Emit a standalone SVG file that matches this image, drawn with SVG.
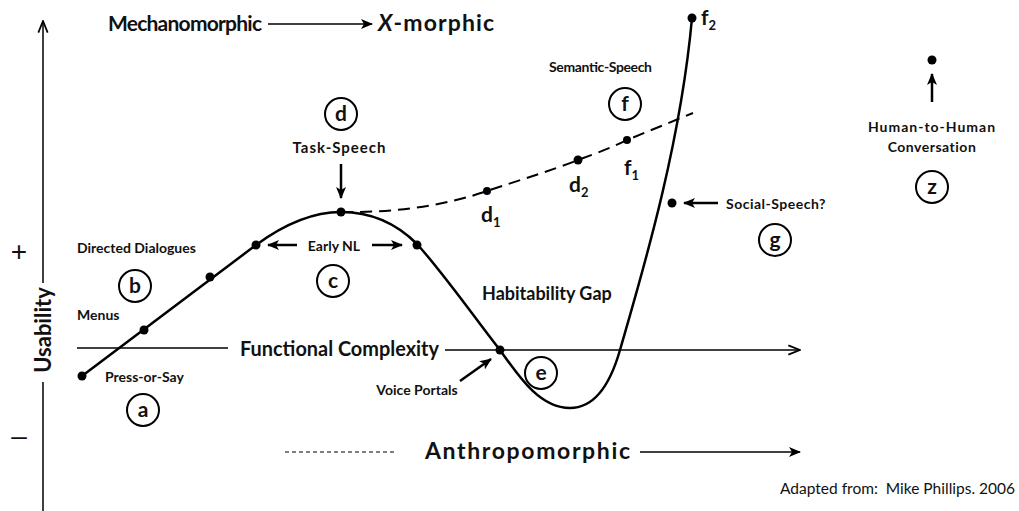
<svg xmlns="http://www.w3.org/2000/svg" width="1019" height="511" viewBox="0 0 1019 511">
<defs>
<marker id="ah" viewBox="0 0 12 10" refX="11" refY="5" markerWidth="12" markerHeight="10" markerUnits="userSpaceOnUse" orient="auto">
<path d="M0,0 L12,5 L0,10 L3,5 z" fill="#000"/>
</marker>
<marker id="oh" viewBox="0 0 12 10" refX="11" refY="5" markerWidth="14" markerHeight="12" markerUnits="userSpaceOnUse" orient="auto">
<path d="M1,1 L11,5 L1,9" fill="none" stroke="#000" stroke-width="1.5"/>
</marker>
</defs>
<style>
text{font-family:Lato,"Open Sans","Liberation Sans",sans-serif;font-weight:bold;fill:#111}
.lbl{font-size:14px}
.cl{font-size:21px;text-anchor:middle}
.circ{fill:none;stroke:#000;stroke-width:2}
.ln{stroke:#000;stroke-width:1.5;fill:none}
.arr{stroke:#000;stroke-width:2.5;fill:none;marker-end:url(#ah)}
.dot{fill:#000}
</style>
<rect width="1019" height="511" fill="#fff"/>

<g id="axes">
<line class="ln" x1="43" y1="283" x2="43" y2="21" marker-end="url(#oh)"/>
<line class="ln" x1="43" y1="382" x2="43" y2="511"/>
<text x="19" y="261" style="font-size:28px;font-weight:normal;font-family:'Liberation Sans',sans-serif" text-anchor="middle">+</text>
<text x="19" y="445" style="font-size:28px;font-weight:normal;font-family:'Liberation Sans',sans-serif" text-anchor="middle">–</text>
<text transform="translate(51,330) rotate(-90)" style="font-size:22px" text-anchor="middle">Usability</text>
<line class="ln" x1="77" y1="348" x2="228" y2="348"/>
<line class="ln" x1="445" y1="350" x2="800" y2="350" marker-end="url(#oh)"/>
<text x="240" y="356" style="font-size:20px" textLength="199" lengthAdjust="spacingAndGlyphs">Functional Complexity</text>
</g>

<g id="top-title">
<text x="108" y="31" style="font-size:21px" textLength="154" lengthAdjust="spacing">Mechanomorphic</text>
<line x1="268" y1="24" x2="372" y2="24" stroke="#000" stroke-width="1.5" marker-end="url(#ah)"/>
<text x="378" y="31" style="font-size:23px" textLength="116" lengthAdjust="spacing"><tspan font-style="italic">X</tspan>-morphic</text>
</g>

<g id="bottom-title">
<line x1="285" y1="452" x2="397" y2="452" stroke="#000" stroke-width="1" stroke-dasharray="4,3"/>
<text x="425" y="459" style="font-size:23px" textLength="205" lengthAdjust="spacing">Anthropomorphic</text>
<line x1="640" y1="452" x2="800" y2="452" stroke="#000" stroke-width="1.5" marker-end="url(#ah)"/>
<text x="1015" y="494" style="font-size:15.5px;font-weight:normal" text-anchor="end" xml:space="preserve">Adapted from:  Mike Phillips. 2006</text>
</g>

<g id="connectors">
<path d="M82,376 L256,245 C290,220 318,212 341,212 C370,212 395,222 417,244 C445,275 480,325 500,350 C520,378 540,408 570,408 C595,408 610,385 620,350 C640,280 680,150 692,18" stroke="#000" stroke-width="2.5" fill="none"/>
<path d="M341,212 C400,213 450,204 487,191 C520,180 550,171 578,160 C600,152 615,146 627,140 L693,113" stroke="#000" stroke-width="2" fill="none" stroke-dasharray="12,7"/>
<line class="arr" x1="341" y1="164" x2="341" y2="198"/>
<line class="arr" x1="297" y1="245" x2="268" y2="245"/>
<line class="arr" x1="372" y1="245" x2="402" y2="245"/>
<line class="arr" x1="460" y1="381" x2="491" y2="359"/>
<line class="arr" x1="718" y1="203" x2="684" y2="203"/>
<line class="arr" x1="932" y1="102" x2="932" y2="74"/>
</g>

<g id="a">
<circle class="dot" cx="82" cy="376" r="4.5"/>
<text class="lbl" x="105" y="382">Press-or-Say</text>
<circle class="circ" cx="143" cy="410" r="16"/>
<text class="cl" x="143" y="417">a</text>
</g>
<g id="b">
<circle class="dot" cx="144" cy="330" r="4.5"/>
<circle class="dot" cx="210" cy="277" r="4.5"/>
<text class="lbl" x="77" y="320">Menus</text>
<text class="lbl" x="77" y="253">Directed Dialogues</text>
<circle class="circ" cx="135" cy="286" r="16"/>
<text class="cl" x="135" y="293">b</text>
</g>
<g id="c">
<circle class="dot" cx="256" cy="245" r="4.5"/>
<circle class="dot" cx="417" cy="245" r="4.5"/>
<text class="lbl" x="334" y="251" text-anchor="middle">Early NL</text>
<circle class="circ" cx="333" cy="281" r="16"/>
<text class="cl" x="333" y="288">c</text>
</g>
<g id="d">
<circle class="dot" cx="341" cy="212" r="4.5"/>
<circle class="circ" cx="341" cy="114" r="16"/>
<text class="cl" x="341" y="121">d</text>
<text class="lbl" x="339" y="153" text-anchor="middle" style="font-size:15px" textLength="93" lengthAdjust="spacing">Task-Speech</text>
<circle class="dot" cx="487" cy="191" r="4"/>
<text x="481" y="222" style="font-size:21px">d<tspan font-size="13" dy="5">1</tspan></text>
<circle class="dot" cx="578" cy="160" r="4.5"/>
<text x="569" y="192" style="font-size:21px">d<tspan font-size="13" dy="5">2</tspan></text>
</g>
<g id="e">
<circle class="dot" cx="500" cy="350" r="4.5"/>
<text class="lbl" x="417" y="395" text-anchor="middle">Voice Portals</text>
<text x="482" y="300" style="font-size:18px">Habitability Gap</text>
<circle class="circ" cx="541" cy="373" r="16"/>
<text class="cl" x="541" y="380">e</text>
</g>
<g id="f">
<circle class="dot" cx="627" cy="140" r="4"/>
<text x="624" y="175" style="font-size:21px">f<tspan font-size="13" dy="5">1</tspan></text>
<circle class="dot" cx="692" cy="18" r="4.5"/>
<text x="701" y="25" style="font-size:21px">f<tspan font-size="13" dy="5">2</tspan></text>
<text class="lbl" x="549" y="72" textLength="103" lengthAdjust="spacing">Semantic-Speech</text>
<circle class="circ" cx="625" cy="104" r="16"/>
<text class="cl" x="625" y="111">f</text>
</g>
<g id="g">
<circle class="dot" cx="672" cy="203" r="4.5"/>
<text class="lbl" x="726" y="209" style="letter-spacing:0.5px">Social-Speech?</text>
<circle class="circ" cx="775" cy="240" r="16"/>
<text class="cl" x="775" y="247">g</text>
</g>
<g id="z">
<circle class="dot" cx="932" cy="60" r="4.5"/>
<text class="lbl" x="932" y="132" text-anchor="middle" style="letter-spacing:1px">Human-to-Human</text>
<text class="lbl" x="932" y="152" text-anchor="middle" style="letter-spacing:0.5px">Conversation</text>
<circle class="circ" cx="932" cy="187" r="16"/>
<text class="cl" x="932" y="194">z</text>
</g>
</svg>
